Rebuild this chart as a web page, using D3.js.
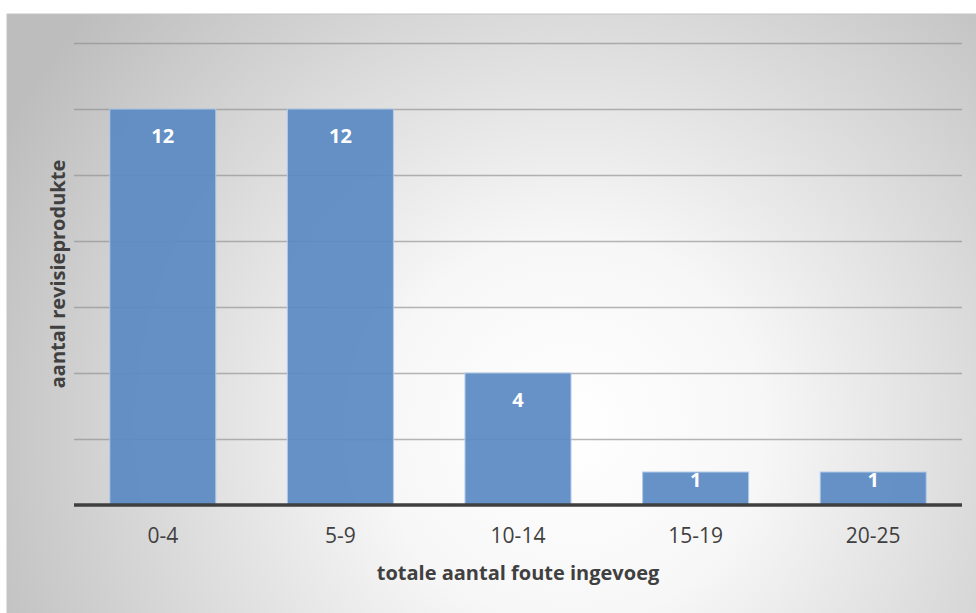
<!DOCTYPE html>
<html>
<head>
<meta charset="utf-8">
<script src="https://cdn.jsdelivr.net/npm/d3@7"></script>
<style>
  html, body { margin: 0; padding: 0; background: #ffffff; }
  svg { display: block; }
</style>
</head>
<body>
<svg id="chart" width="976" height="613"></svg>
<script>
// Chart data
const categories = ["0-4", "5-9", "10-14", "15-19", "20-25"];
const counts = [12, 12, 4, 1, 1];
const yTicks = [0, 2, 4, 6, 8, 10, 12, 14];
const xTitle = "totale aantal foute ingevoeg";
const yTitle = "aantal revisieprodukte";

const W = 976, H = 613;
const frame = { x: 7, y: 14, w: W - 7 + 1, h: H - 14 + 1 };
const plot = { left: 74, right: 962, top: 43, bottom: 505 };

const svg = d3.select("#chart");
const defs = svg.append("defs");

// Soft radial backdrop of the chart area
const bg = defs.append("radialGradient")
  .attr("id", "bgGrad")
  .attr("gradientUnits", "userSpaceOnUse")
  .attr("cx", 570).attr("cy", 430).attr("r", 640);
bg.append("stop").attr("offset", "0%").attr("stop-color", "#ffffff");
bg.append("stop").attr("offset", "30%").attr("stop-color", "#f7f7f7");
bg.append("stop").attr("offset", "100%").attr("stop-color", "#bdbdbd");

svg.append("rect")
  .attr("x", frame.x).attr("y", frame.y)
  .attr("width", frame.w).attr("height", frame.h)
  .attr("fill", "url(#bgGrad)")
  .attr("stroke", "#c4c4c4").attr("stroke-width", 1);

const x = d3.scaleBand()
  .domain(categories)
  .range([plot.left, plot.right])
  .paddingInner(0.403)
  .paddingOuter(0.2015);

const y = d3.scaleLinear()
  .domain([0, 14])
  .range([plot.bottom, plot.top]);

// Horizontal gridlines
const grid = d3.axisLeft(y)
  .tickValues(yTicks.filter(d => d > 0))
  .tickSize(-(plot.right - plot.left))
  .tickFormat("");
svg.append("g")
  .attr("transform", `translate(${plot.left},0)`)
  .call(grid)
  .call(g => g.select(".domain").remove())
  .call(g => g.selectAll(".tick line")
    .attr("stroke", "#8f8f8f")
    .attr("stroke-opacity", 0.65)
    .attr("stroke-width", 1.5));

// Bars
svg.append("g")
  .selectAll("rect")
  .data(categories)
  .join("rect")
  .attr("x", (d) => x(d))
  .attr("y", (d, i) => y(counts[i]))
  .attr("width", x.bandwidth())
  .attr("height", (d, i) => y(0) - y(counts[i]))
  .attr("fill", "#5b8ac4")
  .attr("fill-opacity", 0.93)
  .attr("stroke", "#b3cbe8")
  .attr("stroke-width", 1);

// Baseline axis with category labels
const xAxis = d3.axisBottom(x).tickSize(0).tickPadding(23);
svg.append("g")
  .attr("transform", `translate(0,${y(0)})`)
  .call(xAxis)
  .call(g => g.select(".domain")
    .attr("stroke", "#3f3f3f")
    .attr("stroke-width", 3.5)
    .attr("d", `M${plot.left},0H${plot.right}`))
  .call(g => g.selectAll(".tick text")
    .attr("fill", "#404040")
    .attr("font-family", "'Open Sans', sans-serif")
    .attr("font-size", 21));

// Value labels inside the top of each bar
svg.append("g")
  .selectAll("text")
  .data(categories)
  .join("text")
  .attr("x", (d) => x(d) + x.bandwidth() / 2)
  .attr("y", (d, i) => {
    const top = y(counts[i]);
    const h = y(0) - top;
    return top + Math.min(20, h - 32);
  })
  .attr("dy", "0.72em")
  .attr("text-anchor", "middle")
  .attr("fill", "#ffffff")
  .attr("font-family", "'Open Sans', sans-serif")
  .attr("font-weight", "bold")
  .attr("font-size", 20)
  .text((d, i) => counts[i]);

// Axis titles
svg.append("text")
  .attr("x", (plot.left + plot.right) / 2)
  .attr("y", 580)
  .attr("text-anchor", "middle")
  .attr("fill", "#404040")
  .attr("font-family", "'Open Sans', sans-serif")
  .attr("font-weight", "bold")
  .attr("font-size", 20)
  .text(xTitle);

svg.append("text")
  .attr("transform", `translate(65,${(plot.top + plot.bottom) / 2}) rotate(-90)`)
  .attr("text-anchor", "middle")
  .attr("fill", "#404040")
  .attr("font-family", "'Open Sans', sans-serif")
  .attr("font-weight", "bold")
  .attr("font-size", 20)
  .text(yTitle);
</script>
</body>
</html>
